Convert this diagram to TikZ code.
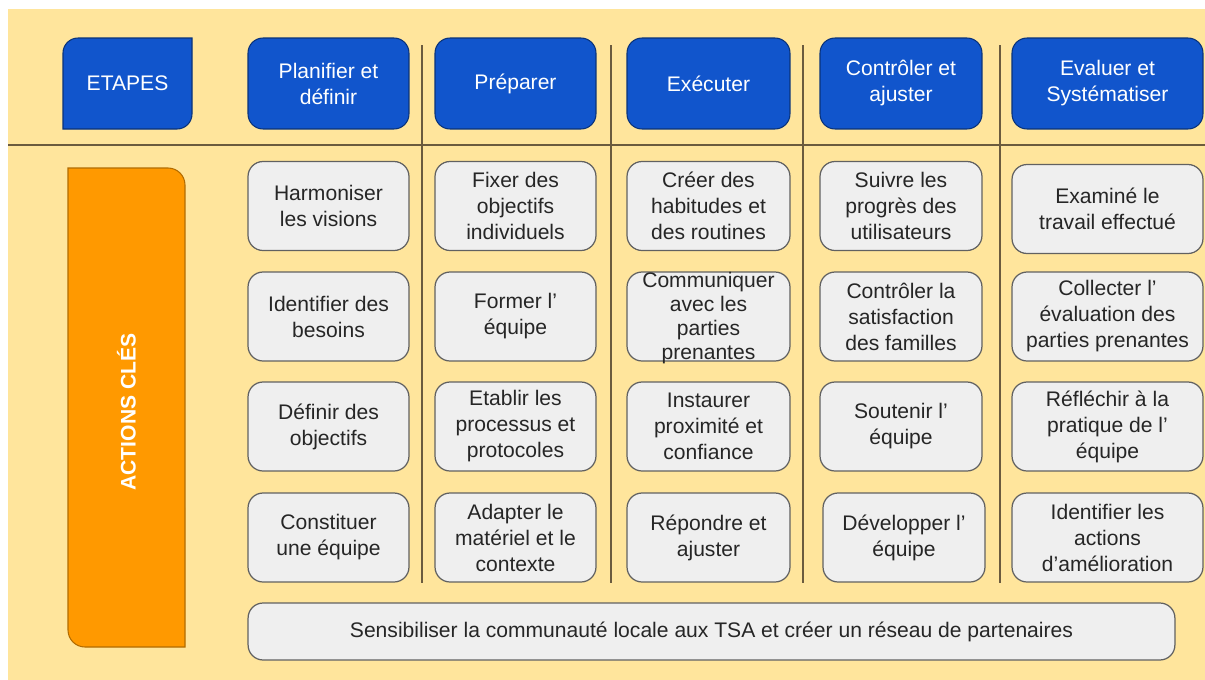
\documentclass[tikz,border=0pt]{standalone}
\usepackage{fontspec}
\setmainfont{Liberation Sans}
\usetikzlibrary{positioning}

\definecolor{fond}{HTML}{FFE59C}
\definecolor{bleu}{HTML}{1155CC}
\definecolor{orangecle}{HTML}{FF9900}
\definecolor{gris}{HTML}{EFEFEF}
\definecolor{trait}{HTML}{6B5B3E}

\tikzset{
	etape/.style={rectangle, rounded corners=0.3cm, fill=bleu, draw=bleu!60!black, line width=0.6pt,
		minimum width=#1, minimum height=1.82cm, inner sep=0pt, align=center, text=white,
		font=\fontsize{12}{14.8}\selectfont},
	etape/.default=3.22cm,
	action/.style={rectangle, rounded corners=0.3cm, fill=gris, draw=black!62, line width=0.7pt,
		minimum width=#1, minimum height=1.78cm, inner sep=0pt, align=center, text=black!85,
		font=\fontsize{12}{14.8}\selectfont},
	action/.default=3.22cm,
	separe/.style={line width=0.6pt, color=trait},
}

\begin{document}
\begin{tikzpicture}[x=0.02cm, y=-0.02cm]
		%%%%% START %%%%%
		\useasboundingbox (0,0) rectangle (1205,680);
		\fill[white] (0,0) rectangle (1205,680);
		\fill[fond] (8,9) rectangle (1205,680);
		
		% lignes de separation
		\draw[separe] (8,145) -- (1205,145);
		\draw[separe] (422,45) -- (422,583);
		\draw[separe] (611,45) -- (611,583);
		\draw[separe] (803,45) -- (803,583);
		\draw[separe] (1000,45) -- (1000,583);
		
		% ETAPES
		\filldraw[fill=bleu, draw=bleu!60!black, line width=0.6pt] (63,129) -- (63,53) arc (180:90:0.3cm) -- (192,38) -- (192,114) arc (0:-90:0.3cm) -- cycle;
		\node[text=white, font=\fontsize{12}{14.8}\selectfont] (etapes) at (127.5,83.5) {ETAPES};
		
		% ACTIONS CLES
		\filldraw[fill=orangecle, draw=orangecle!70!black, line width=0.6pt] (68,168) -- (168,168) arc (90:0:0.34cm) -- (185,647) -- (85,647) arc (270:180:0.34cm) -- cycle;
		\node[rotate=90, text=white, font=\fontsize{12}{14.8}\selectfont\bfseries] (actions) at (126.5,412) {ACTIONS CLÉS};
		
		% en-tetes
		\node[etape] (planifier) at (328.5,83.5) {Planifier et\\définir};
		\node[etape] (preparer) at (515.5,83.5) {Préparer};
		\node[etape=3.26cm] (executer) at (708.5,83.5) {Exécuter};
		\node[etape=3.24cm] (controler) at (901,83.5) {Contrôler et\\ajuster};
		\node[etape=3.82cm] (evaluer) at (1107.5,83.5) {Evaluer et\\Systématiser};
		
		% colonne 1
		\node[action] (harmoniser) at (328.5,206) {Harmoniser\\les visions};
		\node[action] (identifier) at (328.5,316.5) {Identifier des\\besoins};
		\node[action] (definir) at (328.5,426.5) {Définir des\\objectifs};
		\node[action] (constituer) at (328.5,537.5) {Constituer\\une équipe};
		
		% colonne 2
		\node[action] (fixer) at (515.5,206) {Fixer des\\objectifs\\individuels};
		\node[action] (former) at (515.5,316.5) {Former l'\\équipe};
		\node[action] (etablir) at (515.5,426.5) {Etablir les\\processus et\\protocoles};
		\node[action] (adapter) at (515.5,537.5) {Adapter le\\matériel et le\\contexte};
		
		% colonne 3
		\node[action=3.26cm] (creer) at (708.5,206) {Créer des\\habitudes et\\des routines};
		\node[action=3.26cm] (communiquer) at (708.5,316.5) {};
		\node[align=center, inner sep=0pt, text=black!85, font=\fontsize{12}{13.7}\selectfont] (communiquertxt) at (708.5,318) {Communiquer\\avec les\\parties\\prenantes};
		\node[action=3.26cm] (instaurer) at (708.5,426.5) {Instaurer\\proximité et\\confiance};
		\node[action=3.26cm] (repondre) at (708.5,537.5) {Répondre et\\ajuster};
		
		% colonne 4
		\node[action=3.24cm] (suivre) at (901,206) {Suivre les\\progrès des\\utilisateurs};
		\node[action=3.24cm] (controlerla) at (901,316.5) {Contrôler la\\satisfaction\\des familles};
		\node[action=3.24cm] (soutenir) at (901,426.5) {Soutenir l'\\équipe};
		\node[action=3.24cm] (developper) at (904,537.5) {Développer l'\\équipe};
		
		% colonne 5
		\node[action=3.82cm] (examine) at (1107.5,209) {Examiné le\\travail effectué};
		\node[action=3.82cm] (collecter) at (1107.5,316.5) {Collecter l'\\évaluation des\\parties prenantes};
		\node[action=3.82cm] (reflechir) at (1107.5,426.5) {Réfléchir à la\\pratique de l'\\équipe};
		\node[action=3.82cm] (identifierles) at (1107.5,537.5) {Identifier les\\actions\\d'amélioration};
		
		% sensibiliser
		\node[action=18.54cm, minimum height=1.14cm] (sensibiliser) at (711.5,631.5) {Sensibiliser la communauté locale aux TSA et créer un réseau de partenaires};
		
		%%%%% END %%%%%
	\end{tikzpicture}
\end{document}
